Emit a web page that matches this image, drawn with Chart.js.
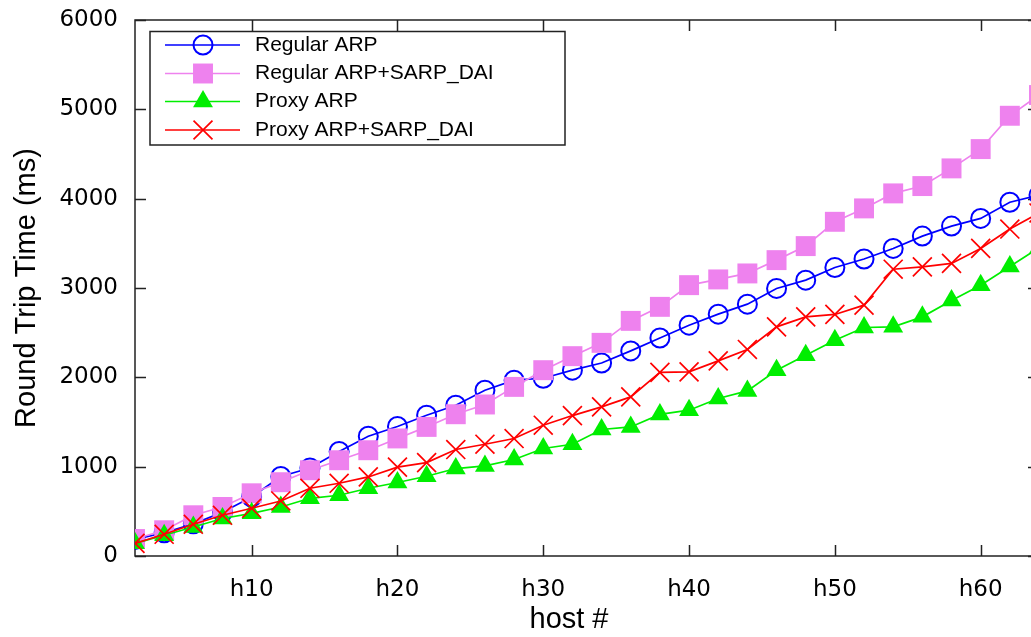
<!DOCTYPE html>
<html>
<head>
<meta charset="utf-8">
<title>Round Trip Time per host</title>
<script src="https://cdn.jsdelivr.net/npm/chart.js@4.4.1/dist/chart.umd.min.js"></script>
<style>
  html, body { margin: 0; padding: 0; background: #fff; overflow: hidden; }
  #wrap { width: 1031px; height: 637px; overflow: hidden; }
</style>
</head>
<body>
<div id="wrap"><canvas id="rtt" width="1040" height="637"></canvas></div>
<script>
// host numbers (h2, h4, ... h64), the plot is cut at the right edge like the original
const hosts = [2, 4, 6, 8, 10, 12, 14, 16, 18, 20, 22, 24, 26, 28, 30, 32,
               34, 36, 38, 40, 42, 44, 46, 48, 50, 52, 54, 56, 58, 60, 62, 64];

// round trip time in ms
const regularArp = [185, 260, 360, 490, 660, 890, 985, 1170, 1340, 1450, 1576, 1688, 1856, 1968, 1990, 2080,
                    2160, 2296, 2440, 2584, 2707, 2819, 2995, 3088, 3230, 3325, 3443, 3581, 3693, 3779, 3960, 4040];
const regularArpSarp = [190, 288, 456, 549, 702, 826, 960, 1072, 1184, 1316, 1445, 1587, 1696, 1893, 2080, 2237,
                        2386, 2632, 2789, 3032, 3096, 3163, 3312, 3469, 3741, 3891, 4059, 4141, 4339, 4555, 4928, 5160];
const proxyArp = [142, 232, 325, 420, 478, 549, 646, 680, 758, 823, 893, 979, 1008, 1080, 1203, 1251,
                  1416, 1445, 1585, 1632, 1763, 1848, 2080, 2248, 2416, 2558, 2565, 2677, 2860, 3032, 3240, 3450];
const proxyArpSarp = [142, 243, 355, 456, 534, 616, 758, 814, 885, 995, 1046, 1192, 1251, 1315, 1464, 1572,
                      1669, 1781, 2055, 2061, 2184, 2312, 2565, 2677, 2704, 2808, 3210, 3236, 3275, 3443, 3660, 3840];

const xTicks = [10, 20, 30, 40, 50, 60];
const yTicks = [0, 1000, 2000, 3000, 4000, 5000, 6000];

const seriesNames = ['Regular ARP', 'Regular ARP+SARP_DAI', 'Proxy ARP', 'Proxy ARP+SARP_DAI'];
const xTitle = 'host #';
const yTitle = 'Round Trip Time (ms)';

const toPoints = (vals) => vals.map((v, i) => ({ x: hosts[i], y: v }));

const datasets = [
    {
        label: seriesNames[0],
        data: toPoints(regularArp),
        borderColor: '#0000ff',
        borderWidth: 1.7,
        pointStyle: 'circle',
        pointRadius: 9.5,
        pointBorderWidth: 2,
        pointBackgroundColor: 'rgba(0,0,0,0)',
        pointBorderColor: '#0000ff',
        order: 4,
    },
    {
        label: seriesNames[1],
        data: toPoints(regularArpSarp),
        borderColor: '#ee82ee',
        borderWidth: 1.7,
        pointStyle: 'rect',
        pointRadius: 14.1,
        pointBorderWidth: 0,
        pointBackgroundColor: '#ee82ee',
        pointBorderColor: '#ee82ee',
        order: 3,
    },
    {
        label: seriesNames[2],
        data: toPoints(proxyArp),
        borderColor: '#00ee00',
        borderWidth: 1.7,
        pointStyle: 'triangle',
        pointRadius: 11.5,
        pointBorderWidth: 0,
        pointBackgroundColor: '#00ee00',
        pointBorderColor: '#00ee00',
        order: 2,
    },
    {
        label: seriesNames[3],
        data: toPoints(proxyArpSarp),
        borderColor: '#ff0000',
        borderWidth: 1.7,
        pointStyle: 'crossRot',
        pointRadius: 13.4,
        pointBorderWidth: 1.7,
        pointBackgroundColor: '#ff0000',
        pointBorderColor: '#ff0000',
        order: 1,
    },
];

// gnuplot style frame: border all round, ticks pointing inwards on every side
const framePlugin = {
    id: 'frame',
    beforeDatasetsDraw(chart) {
        const { ctx, chartArea: a, scales } = chart;
        const len = 11;
        ctx.save();
        ctx.strokeStyle = '#222';
        ctx.lineWidth = 1.5;
        ctx.strokeRect(a.left, a.top, a.right - a.left, a.bottom - a.top);
        ctx.beginPath();
        xTicks.forEach(t => {
            const px = Math.round(scales.x.getPixelForValue(t)) + 0.5;
            ctx.moveTo(px, a.bottom); ctx.lineTo(px, a.bottom - len);
            ctx.moveTo(px, a.top); ctx.lineTo(px, a.top + len);
        });
        yTicks.forEach(t => {
            const py = Math.round(scales.y.getPixelForValue(t)) + 0.5;
            ctx.moveTo(a.left, py); ctx.lineTo(a.left + len, py);
            ctx.moveTo(a.right, py); ctx.lineTo(a.right - len, py);
        });
        ctx.stroke();
        ctx.restore();
    }
};

// x title sits a bit left of the frame centre in the original (its frame runs past the crop)
const xTitlePlugin = {
    id: 'xTitle',
    afterDraw(chart) {
        const { ctx } = chart;
        ctx.save();
        ctx.fillStyle = '#000';
        ctx.font = '29px "Liberation Sans", Arial, sans-serif';
        ctx.textAlign = 'center';
        ctx.textBaseline = 'middle';
        ctx.fillText(xTitle, 569, 620);
        ctx.restore();
    }
};

// key box in the top left corner, line + marker like gnuplot
const keyPlugin = {
    id: 'key',
    afterDraw(chart) {
        const { ctx } = chart;
        const box = { x: 150, y: 31.5, w: 415, h: 113.5 };
        const rows = [45, 73.5, 101.5, 130];
        ctx.save();
        ctx.strokeStyle = '#222';
        ctx.lineWidth = 1.5;
        ctx.strokeRect(box.x, box.y, box.w, box.h);
        chart.data.datasets.forEach((ds, i) => {
            const y = rows[i];
            ctx.strokeStyle = ds.borderColor;
            ctx.lineWidth = ds.borderWidth;
            ctx.beginPath();
            ctx.moveTo(165, y);
            ctx.lineTo(240, y);
            ctx.stroke();
            ctx.fillStyle = ds.pointBackgroundColor;
            ctx.strokeStyle = ds.pointBorderColor;
            ctx.lineWidth = ds.pointBorderWidth;
            Chart.helpers.drawPoint(ctx, {
                pointStyle: ds.pointStyle,
                radius: ds.pointRadius,
                rotation: 0,
                borderWidth: ds.pointBorderWidth,
            }, 203, y);
            ctx.fillStyle = '#000';
            ctx.font = '21px "Liberation Sans", Arial, sans-serif';
            ctx.textBaseline = 'middle';
            ctx.textAlign = 'left';
            ctx.fillText(ds.label, 255, y);
        });
        ctx.restore();
    }
};

const tickFont = { family: '"DejaVu Sans", sans-serif', size: 23 };
const titleFont = { family: '"Liberation Sans", Arial, sans-serif', size: 29, lineHeight: 1.2 };

new Chart(document.getElementById('rtt'), {
    type: 'line',
    data: { datasets },
    options: {
        responsive: false,
        animation: false,
        events: [],
        // no auto padding for the big markers: the frame sits exactly where the original has it
        layout: { autoPadding: false, padding: { top: 20, right: 1, left: 0, bottom: 0 } },
        plugins: {
            legend: { display: false },
            tooltip: { enabled: false },
        },
        elements: { line: { tension: 0 } },
        scales: {
            x: {
                type: 'linear',
                min: 2,
                max: 64,
                afterBuildTicks: (scale) => { scale.ticks = xTicks.map(v => ({ value: v })); },
                afterFit: (scale) => {
                    scale.height = 81;
                    scale.paddingLeft = 0;
                    scale.paddingRight = 0;
                },
                grid: { display: false },
                border: { display: false },
                ticks: {
                    font: tickFont,
                    color: '#000',
                    padding: 12,
                    maxRotation: 0,
                    callback: (v) => 'h' + v,
                },
            },
            y: {
                min: 0,
                max: 6000,
                afterBuildTicks: (scale) => { scale.ticks = yTicks.map(v => ({ value: v })); },
                afterFit: (scale) => {
                    scale.width = 135;
                    scale.paddingTop = 0;
                    scale.paddingBottom = 0;
                },
                grid: { display: false },
                border: { display: false },
                ticks: {
                    font: tickFont,
                    color: '#000',
                    padding: 9,
                    callback: (v) => String(v),
                },
                title: {
                    display: true,
                    text: yTitle,
                    font: titleFont,
                    color: '#000',
                    padding: { top: 10, bottom: 0 },
                },
            },
        },
    },
    plugins: [framePlugin, keyPlugin, xTitlePlugin],
});
</script>
</body>
</html>
